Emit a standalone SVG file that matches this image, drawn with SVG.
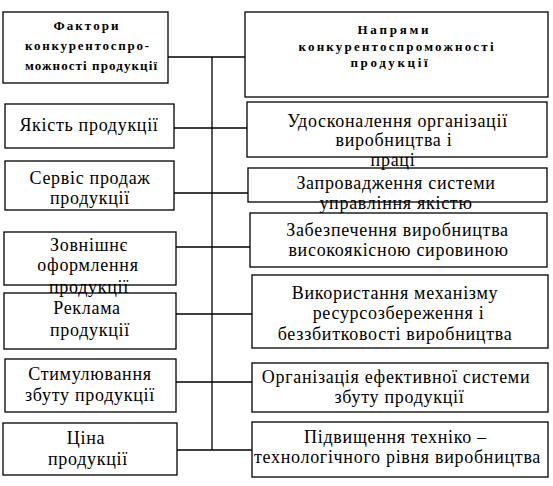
<svg xmlns="http://www.w3.org/2000/svg" width="553" height="486" viewBox="0 0 553 486">
<style>
.box{fill:#fff;stroke:#000;stroke-width:1.3}
.t{font-family:'Liberation Serif','DejaVu Serif',serif;font-size:18px;letter-spacing:0.7px;fill:#000;text-anchor:middle}
.h{font-family:'Liberation Serif','DejaVu Serif',serif;font-size:13px;font-weight:bold;fill:#000;text-anchor:middle}
.c{stroke:#000;stroke-width:1.3;fill:none}
</style>
<g id="connectors">
<line class="c" x1="212" y1="57" x2="212" y2="450"/>
<line class="c" x1="168" y1="57" x2="246" y2="57"/>
<line class="c" x1="174" y1="128" x2="247" y2="128"/>
<line class="c" x1="174" y1="193" x2="248" y2="193"/>
<line class="c" x1="176" y1="247" x2="250" y2="247"/>
<line class="c" x1="176" y1="314" x2="252" y2="314"/>
<line class="c" x1="176" y1="382" x2="252" y2="382"/>
<line class="c" x1="177" y1="450" x2="252" y2="450"/>
</g>
<g id="f-head"><rect class="box" x="3" y="12" width="165" height="71"/>
<text class="h" x="86" y="30" textLength="65" lengthAdjust="spacing">Фактори</text>
<text class="h" x="87" y="50" textLength="124" lengthAdjust="spacing">конкурентоспро-</text>
<text class="h" x="91" y="70" textLength="132" lengthAdjust="spacing">можності продукції</text></g>
<g id="n-head"><rect class="box" x="245" y="12" width="303" height="85"/>
<text class="h" x="393" y="34" textLength="71" lengthAdjust="spacing">Напрями</text>
<text class="h" x="396" y="51" textLength="195" lengthAdjust="spacing">конкурентоспроможності</text>
<text class="h" x="389" y="67" textLength="77" lengthAdjust="spacing">продукції</text></g>
<g id="f1"><rect class="box" x="5" y="104" width="169" height="44"/>
<text class="t" x="89" y="131">Якість продукції</text></g>
<g id="f2"><rect class="box" x="5" y="161" width="169" height="49"/>
<text class="t" x="90" y="184">Сервіс продаж</text>
<text class="t" x="90" y="204">продукції</text></g>
<g id="f3"><rect class="box" x="4" y="232" width="172" height="53"/>
<text class="t" x="89" y="251">Зовнішнє</text>
<text class="t" x="88" y="271">оформлення</text>
<text class="t" x="89" y="293">продукції</text></g>
<g id="f4"><rect class="box" x="4" y="293" width="172" height="56" fill-opacity="0"/>
<text class="t" x="87" y="314">Реклама</text>
<text class="t" x="90" y="336">продукції</text></g>
<g id="f5"><rect class="box" x="5" y="359" width="171" height="53"/>
<text class="t" x="90" y="380">Стимулювання</text>
<text class="t" x="90" y="401">збуту продукції</text></g>
<g id="f6"><rect class="box" x="3" y="423" width="174" height="52"/>
<text class="t" x="86" y="444">Ціна</text>
<text class="t" x="88" y="465">продукції</text></g>
<g id="n1"><rect class="box" x="247" y="102" width="300" height="55"/>
<text class="t" x="397.5" y="127">Удосконалення організації</text>
<text class="t" x="394" y="146">виробництва і</text>
<text class="t" x="393" y="166">праці</text></g>
<g id="n2"><rect class="box" x="248" y="168" width="299" height="34" fill-opacity="0"/>
<text class="t" x="396" y="189">Запровадження системи</text>
<text class="t" x="396" y="209">управління якістю</text></g>
<g id="n3"><rect class="box" x="250" y="213" width="297" height="54"/>
<text class="t" x="397.5" y="236">Забезпечення виробництва</text>
<text class="t" x="398.5" y="256">високоякісною сировиною</text></g>
<g id="n4"><rect class="box" x="252" y="275" width="296" height="73"/>
<text class="t" x="395" y="299">Використання механізму</text>
<text class="t" x="398.5" y="319">ресурсозбереження і</text>
<text class="t" x="395" y="340">беззбитковості виробництва</text></g>
<g id="n5"><rect class="box" x="252" y="363" width="296" height="49"/>
<text class="t" x="396" y="383">Організація ефективної системи</text>
<text class="t" x="399.5" y="403">збуту продукції</text></g>
<g id="n6"><rect class="box" x="252" y="422" width="296" height="55"/>
<text class="t" x="395.5" y="443">Підвищення техніко –</text>
<text class="t" x="397.5" y="463">технологічного рівня виробництва</text></g>
</svg>
